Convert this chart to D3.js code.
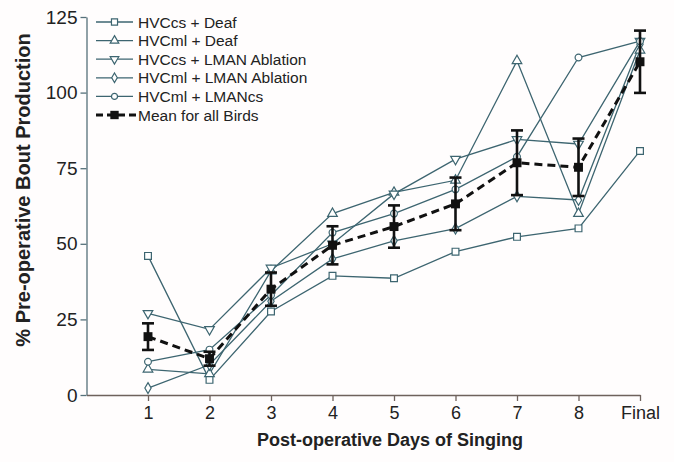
<!DOCTYPE html>
<html><head><meta charset="utf-8">
<script src="https://cdn.jsdelivr.net/npm/d3@7"></script>
<style>body{margin:0;background:#fff}svg{display:block}</style>
</head><body><svg id="chart" width="674" height="462"></svg>
<script>
// Song bout production after surgery, per group and mean (± SEM)
const days = ["1", "2", "3", "4", "5", "6", "7", "8", "Final"];
const hvccsDeaf   = [46, 5, 27.6, 39.4, 38.6, 47.4, 52.3, 55.1, 80.7];
const hvcmlDeaf   = [8.5, 7, 41, 60, 67, 71, 110.5, 60, 114];
const hvccsLman   = [27, 21.7, 42, 50, 66.5, 78, 84.5, 83, 117];
const hvcmlLman   = [2.3, 10, 31, 45, 51, 55, 65.7, 64.5, 116];
const hvcmlLmancs = [11, 15, 33, 53.7, 60, 68, 78.8, 111.6, 117];
const meanAll     = [19.3, 12, 35, 49.5, 55.7, 63.2, 76.8, 75.3, 110.2];
const semAll      = [4.4, 2.3, 5.5, 6.3, 7, 8.7, 10.7, 9.5, 10.3];
const yTicks = [0, 25, 50, 75, 100, 125];

const seriesNames = ["HVCcs + Deaf", "HVCml + Deaf", "HVCcs + LMAN Ablation", "HVCml + LMAN Ablation", "HVCml + LMANcs"];
const seriesValues = [hvccsDeaf, hvcmlDeaf, hvccsLman, hvcmlLman, hvcmlLmancs];
const meanName = "Mean for all Birds";

const lineColor = "#3d6570";
const textColor = "#222";
const font = "'Liberation Sans', Arial, Helvetica, sans-serif";

const svg = d3.select("#chart");
svg.append("rect").attr("width", 674).attr("height", 462).attr("fill", "#fffdfd");

const x = d3.scaleLinear().domain([0, days.length]).range([86.5, 640]);
const y = d3.scaleLinear().domain([0, 125]).range([395, 17]);

// marker shapes per group
const shapes = [
  {type: d3.symbolSquare, size: 46, rot: 0},
  {type: d3.symbolTriangle, size: 40, rot: 0},
  {type: d3.symbolTriangle, size: 40, rot: 180},
  {type: d3.symbolDiamond, size: 34, rot: 0},
  {type: d3.symbolCircle, size: 36, rot: 0}
];

// axes
const yAxis = svg.append("g").attr("transform", `translate(${x(0)},0)`)
  .call(d3.axisLeft(y).tickValues(yTicks).tickSize(6).tickSizeOuter(0).tickPadding(3));
yAxis.select(".domain").attr("stroke", "#55707a").attr("stroke-width", 1.3);
yAxis.selectAll(".tick line").attr("stroke", "#55707a").attr("stroke-width", 1.3);
yAxis.selectAll(".tick text").attr("font-family", font).attr("font-size", 19).attr("fill", textColor);

const xAxis = svg.append("g").attr("transform", `translate(0,${y(0)})`)
  .call(d3.axisBottom(x).tickValues(d3.range(1, days.length + 1)).tickFormat(i => days[i - 1])
    .tickSize(6).tickSizeOuter(0).tickPadding(5));
xAxis.select(".domain").attr("stroke", "#6e625c").attr("stroke-width", 1.3);
xAxis.selectAll(".tick line").attr("stroke", "#6e625c").attr("stroke-width", 1.3);
xAxis.selectAll(".tick text").attr("font-family", font).attr("font-size", 18).attr("fill", textColor);

// axis titles
svg.append("text").attr("x", 390).attr("y", 446).attr("text-anchor", "middle")
  .attr("font-family", font).attr("font-weight", "bold").attr("font-size", 18).attr("fill", textColor)
  .text("Post-operative Days of Singing");
svg.append("text").attr("transform", "translate(30,190) rotate(-90)").attr("text-anchor", "middle")
  .attr("font-family", font).attr("font-weight", "bold").attr("font-size", 20).attr("fill", textColor)
  .text("% Pre-operative Bout Production");

const line = d3.line().x((d, i) => x(i + 1)).y(d => y(d));

// group lines
seriesValues.forEach(vals => {
  svg.append("path").datum(vals).attr("d", line)
    .attr("fill", "none").attr("stroke", lineColor).attr("stroke-width", 1.3);
});
// group markers
seriesValues.forEach((vals, s) => {
  const sh = shapes[s];
  svg.append("g").selectAll("path").data(vals).join("path")
    .attr("d", d3.symbol().type(sh.type).size(sh.size))
    .attr("transform", (d, i) => `translate(${x(i + 1)},${y(d)}) rotate(${sh.rot})`)
    .attr("fill", "#fff").attr("stroke", lineColor).attr("stroke-width", 1.2);
});

// mean line, error bars and markers
svg.append("path").datum(meanAll).attr("d", line)
  .attr("fill", "none").attr("stroke", "#111").attr("stroke-width", 3).attr("stroke-dasharray", "8,5");
const eb = svg.append("g").selectAll("g").data(meanAll).join("g");
eb.append("line")
  .attr("x1", (d, i) => x(i + 1)).attr("x2", (d, i) => x(i + 1))
  .attr("y1", (d, i) => y(d + semAll[i])).attr("y2", (d, i) => y(d - semAll[i]))
  .attr("stroke", "#111").attr("stroke-width", 2.6);
[1, -1].forEach(sgn => {
  eb.append("line")
    .attr("x1", (d, i) => x(i + 1) - 6).attr("x2", (d, i) => x(i + 1) + 6)
    .attr("y1", (d, i) => y(d + sgn * semAll[i])).attr("y2", (d, i) => y(d + sgn * semAll[i]))
    .attr("stroke", "#111").attr("stroke-width", 2.6);
});
svg.append("g").selectAll("path").data(meanAll).join("path")
  .attr("d", d3.symbol().type(d3.symbolSquare).size(80))
  .attr("transform", (d, i) => `translate(${x(i + 1)},${y(d)})`)
  .attr("fill", "#111");

// legend
const lg = svg.append("g").attr("transform", "translate(96,22)");
const rowH = 18.6;
seriesNames.forEach((name, s) => {
  const row = lg.append("g").attr("transform", `translate(0,${s * rowH})`);
  row.append("line").attr("x1", 0).attr("x2", 37).attr("stroke", lineColor).attr("stroke-width", 1.3);
  row.append("path").attr("d", d3.symbol().type(shapes[s].type).size(shapes[s].size * 0.8))
    .attr("transform", `translate(18.5,0) rotate(${shapes[s].rot})`)
    .attr("fill", "#fff").attr("stroke", lineColor).attr("stroke-width", 1.2);
  row.append("text").attr("x", 42).attr("y", 5.5).attr("font-family", font).attr("font-size", 15.5)
    .attr("fill", textColor).text(name);
});
const mrow = lg.append("g").attr("transform", `translate(0,${5 * rowH})`);
mrow.append("line").attr("x1", 0).attr("x2", 40).attr("stroke", "#111").attr("stroke-width", 3)
  .attr("stroke-dasharray", "7,4");
mrow.append("path").attr("d", d3.symbol().type(d3.symbolSquare).size(70))
  .attr("transform", "translate(18.5,0)").attr("fill", "#111");
mrow.append("text").attr("x", 42).attr("y", 5.5).attr("font-family", font).attr("font-size", 15.5)
  .attr("fill", textColor).text(meanName);
</script></body></html>
